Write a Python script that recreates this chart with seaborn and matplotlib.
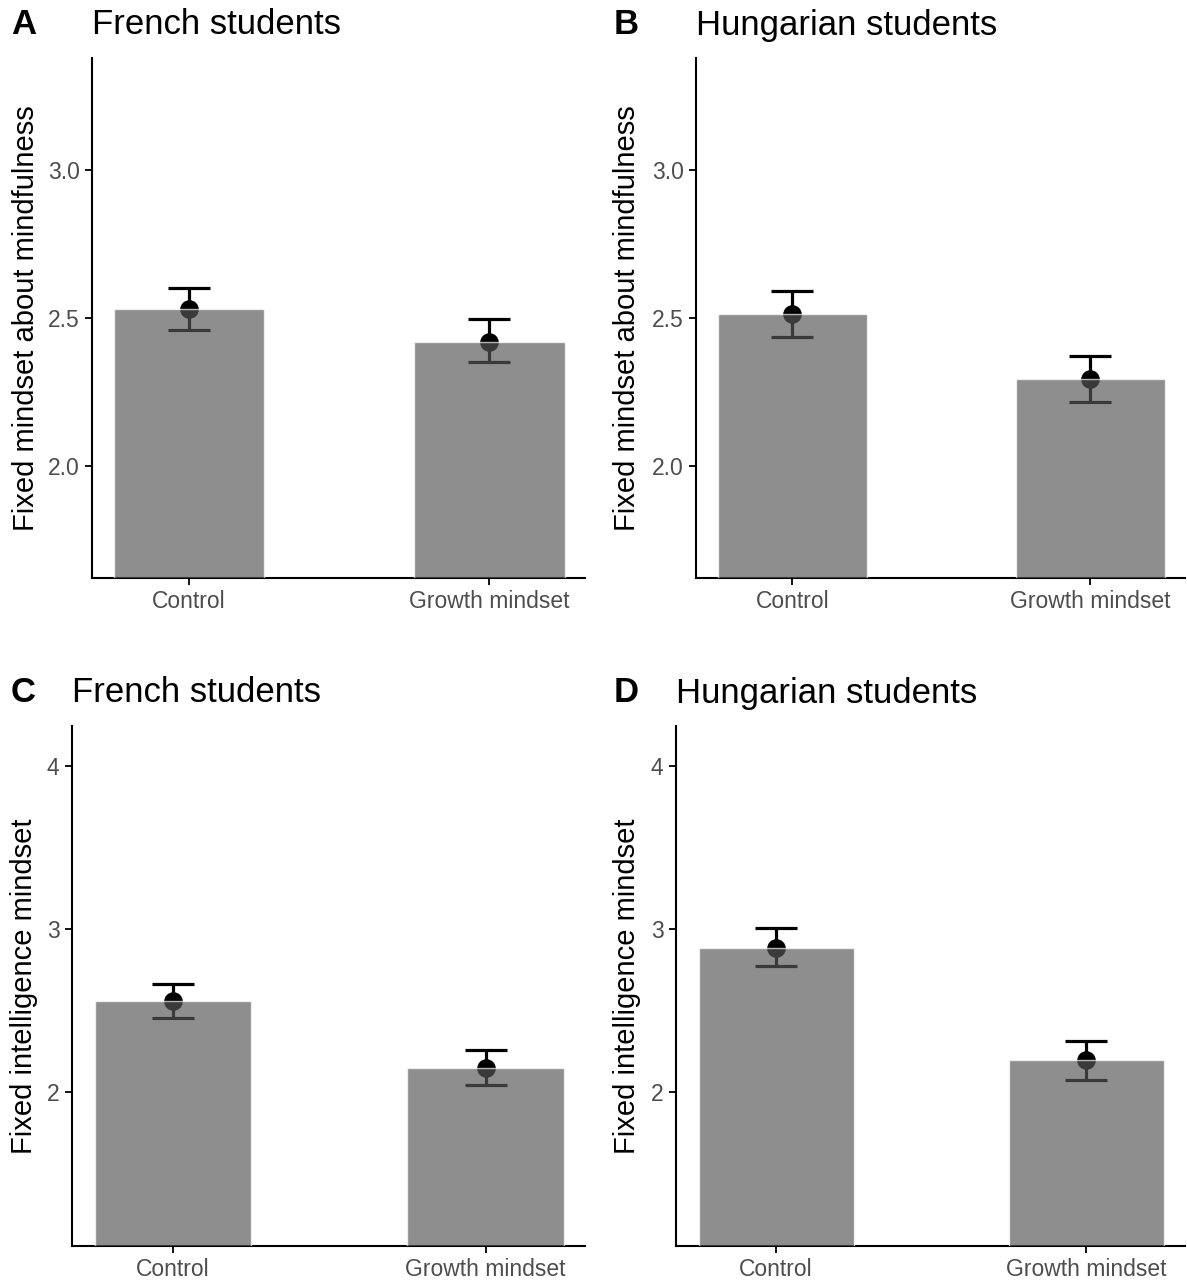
import numpy as np
import pandas as pd
import matplotlib
matplotlib.use("Agg")
import matplotlib.pyplot as plt
import seaborn as sns

sns.set_theme(style="ticks")
plt.rcParams['font.family'] = ['Liberation Sans', 'DejaVu Sans']

# Data
conditions = ["Control", "Growth mindset"]

mind_fr_mean = [2.53, 2.42]
mind_fr_low = [2.46, 2.35]
mind_fr_high = [2.60, 2.495]

mind_hu_mean = [2.515, 2.295]
mind_hu_low = [2.435, 2.217]
mind_hu_high = [2.593, 2.373]

intel_fr_mean = [2.56, 2.145]
intel_fr_low = [2.455, 2.04]
intel_fr_high = [2.665, 2.255]

intel_hu_mean = [2.885, 2.195]
intel_hu_low = [2.77, 2.075]
intel_hu_high = [3.005, 2.315]

panels = [
    ("A", "French students", "Fixed mindset about mindfulness",
     mind_fr_mean, mind_fr_low, mind_fr_high, (1.62, 3.38), [2.0, 2.5, 3.0], ["2.0", "2.5", "3.0"]),
    ("B", "Hungarian students", "Fixed mindset about mindfulness",
     mind_hu_mean, mind_hu_low, mind_hu_high, (1.62, 3.38), [2.0, 2.5, 3.0], ["2.0", "2.5", "3.0"]),
    ("C", "French students", "Fixed intelligence mindset",
     intel_fr_mean, intel_fr_low, intel_fr_high, (1.055, 4.245), [2, 3, 4], ["2", "3", "4"]),
    ("D", "Hungarian students", "Fixed intelligence mindset",
     intel_hu_mean, intel_hu_low, intel_hu_high, (1.055, 4.245), [2, 3, 4], ["2", "3", "4"]),
]

W, H = 1187, 1284
fig = plt.figure(figsize=(W / 100, H / 100), dpi=100)

# axes boxes in pixels: left, right, top, bottom
boxes = [(92, 585, 58, 578), (696, 1185, 58, 578),
         (72, 585, 726, 1246), (676, 1185, 726, 1246)]
ylab_x = [26, 627, 24, 627]
letter_x = [11, 614, 11, 614]

for (letter, title, ylabel, mean, low, high, ylim, yticks, ytl), box, lx, tx in zip(panels, boxes, ylab_x, letter_x):
    l, r, t, b = box
    ax = fig.add_axes([l / W, (H - b) / H, (r - l) / W, (b - t) / H])
    df = pd.DataFrame({"condition": conditions, "mean": mean})
    pos = np.arange(len(conditions))
    mean = np.array(mean)
    err = [mean - np.array(low), np.array(high) - mean]

    # error bars and points drawn first, bars overlay them semi-transparently
    ax.errorbar(pos, mean, yerr=err, fmt="none", ecolor="black", elinewidth=2.3,
                capsize=15, capthick=2.3, zorder=2)
    ax.scatter(pos, mean, s=180, color="black", zorder=2, linewidths=0)
    sns.barplot(data=df, x="condition", y="mean", color="#575757", alpha=0.67,
                width=0.5, saturation=1, errorbar=None, ax=ax, zorder=3)

    ax.set_ylim(*ylim)
    ax.set_xlim(-0.323, 1.318)
    ax.set_yticks(yticks)
    ax.set_yticklabels(ytl)
    ax.set_xlabel("")
    ax.set_ylabel("")
    sns.despine(ax=ax)
    for s in ["left", "bottom"]:
        ax.spines[s].set_linewidth(1.5)
        ax.spines[s].set_color("black")
    ax.tick_params(axis="both", length=5, width=1.3, color="black",
                   labelsize=16.5, labelcolor="#4d4d4d", pad=4)

    fig.text(lx / W, 1 - ((t + b) / 2) / H, ylabel, rotation=90, fontsize=21,
             ha="center", va="center", color="black")
    fig.text(l / W, 1 - (t - 33) / H, title, fontsize=25, ha="left", va="center",
             color="black")
    fig.text(tx / W, 1 - (t - 33) / H, letter, fontsize=25, fontweight="bold",
             ha="left", va="center", color="black")

fig.savefig("out.png", dpi=100)
